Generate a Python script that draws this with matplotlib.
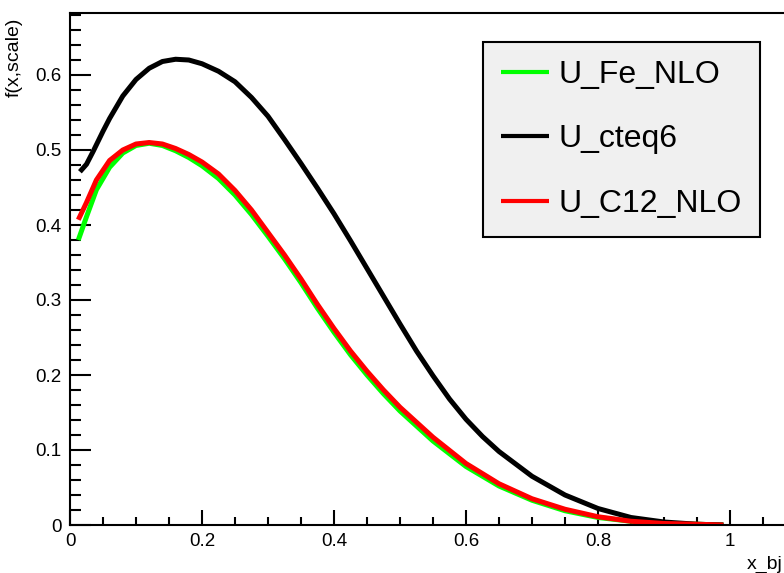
import matplotlib
matplotlib.use("Agg")
import matplotlib.pyplot as plt
from matplotlib.ticker import MultipleLocator, FuncFormatter

plt.rcParams['font.family'] = ['Liberation Sans', 'DejaVu Sans']

# data
x_fe = [0.0126, 0.025, 0.04, 0.06, 0.08, 0.10, 0.12, 0.14, 0.16, 0.18, 0.20, 0.225, 0.25,
        0.275, 0.30, 0.325, 0.35, 0.375, 0.40, 0.425, 0.45, 0.475, 0.50, 0.55, 0.60, 0.65,
        0.70, 0.75, 0.80, 0.85, 0.90, 0.95, 0.99]
u_fe = [0.380, 0.411, 0.447, 0.477, 0.496, 0.506, 0.509, 0.506, 0.499, 0.490, 0.479, 0.462,
        0.440, 0.414, 0.385, 0.355, 0.323, 0.289, 0.257, 0.227, 0.200, 0.175, 0.152, 0.112,
        0.078, 0.052, 0.033, 0.019, 0.010, 0.005, 0.002, 0.001, 0.000]

x_ct = [0.015, 0.025, 0.035, 0.05, 0.06, 0.08, 0.10, 0.12, 0.14, 0.16, 0.18, 0.20, 0.225,
        0.25, 0.275, 0.30, 0.325, 0.35, 0.375, 0.40, 0.425, 0.45, 0.475, 0.50, 0.525, 0.55,
        0.575, 0.60, 0.625, 0.65, 0.70, 0.75, 0.80, 0.85, 0.90, 0.95, 0.99]
u_ct = [0.471, 0.481, 0.498, 0.525, 0.542, 0.572, 0.594, 0.609, 0.618, 0.621, 0.620, 0.615,
        0.605, 0.591, 0.570, 0.545, 0.514, 0.482, 0.449, 0.415, 0.379, 0.342, 0.305, 0.268,
        0.232, 0.199, 0.168, 0.141, 0.118, 0.098, 0.065, 0.040, 0.022, 0.010, 0.004, 0.001,
        0.000]

x_c12 = [0.0126, 0.025, 0.04, 0.06, 0.08, 0.10, 0.12, 0.14, 0.16, 0.18, 0.20, 0.225, 0.25,
         0.275, 0.30, 0.325, 0.35, 0.375, 0.40, 0.425, 0.45, 0.475, 0.50, 0.55, 0.60, 0.65,
         0.70, 0.75, 0.80, 0.85, 0.90, 0.95, 0.99]
u_c12 = [0.407, 0.430, 0.460, 0.486, 0.500, 0.508, 0.510, 0.508, 0.502, 0.494, 0.484, 0.468,
         0.446, 0.420, 0.390, 0.360, 0.328, 0.294, 0.262, 0.232, 0.205, 0.180, 0.157, 0.117,
         0.082, 0.055, 0.035, 0.021, 0.011, 0.005, 0.002, 0.001, 0.000]

labels = ["U_Fe_NLO", "U_cteq6", "U_C12_NLO"]
colors = ["#00ff00", "#000000", "#ff0000"]

W, H = 784, 573
fig = plt.figure(figsize=(W / 100, H / 100), dpi=100)
xmax = 1.1
left, bottom, top = 70 / W, (H - 525) / H, (H - 13) / H
ax = fig.add_axes([left, bottom, xmax * 660 / W, top - bottom])

lw = 3.6
kw = dict(lw=lw, solid_capstyle='butt', solid_joinstyle='round')
ax.plot(x_fe, u_fe, color=colors[0], label=labels[0], **kw)
ax.plot(x_ct, u_ct, color=colors[1], label=labels[1], **kw)
ax.plot(x_c12, u_c12, color=colors[2], label=labels[2], **kw)

ax.set_xlim(0, xmax)
ax.set_ylim(0, 512 / 750)

for s in ax.spines.values():
    s.set_linewidth(1.5)

ax.xaxis.set_major_locator(MultipleLocator(0.2))
ax.xaxis.set_minor_locator(MultipleLocator(0.05))
ax.yaxis.set_major_locator(MultipleLocator(0.1))
ax.yaxis.set_minor_locator(MultipleLocator(0.02))
fmt = FuncFormatter(lambda v, p: ('%g' % round(v, 3)))
ax.xaxis.set_major_formatter(fmt)
ax.yaxis.set_major_formatter(fmt)
ax.tick_params(axis='both', which='both', direction='in', width=1.5, labelsize=13.5,
               top=False, right=False)
ax.tick_params(axis='x', which='major', length=11, pad=6)
ax.tick_params(axis='x', which='minor', length=5.8)
ax.tick_params(axis='y', which='major', length=15, pad=6)
ax.tick_params(axis='y', which='minor', length=8)

fig.text(14 / W, 1 - 18 / H, "f(x,scale)", rotation=90, ha='center', va='top', fontsize=14)
fig.text(783 / W, 1 - 564 / H, "x_bj", ha='right', va='center', fontsize=14)

leg = ax.legend(loc='upper left', bbox_to_anchor=(483 / W, 1 - 42 / H),
                bbox_transform=fig.transFigure, fontsize=23, frameon=True,
                fancybox=False, framealpha=1, borderpad=0.56, labelspacing=1.08,
                handlelength=1.5, handletextpad=0.3, borderaxespad=0)
fr = leg.get_frame()
fr.set_facecolor('#f0f0f0')
fr.set_edgecolor('black')
fr.set_linewidth(1.5)
for l in leg.get_lines():
    l.set_linewidth(3.0)

fig.savefig("out.png", dpi=100)
